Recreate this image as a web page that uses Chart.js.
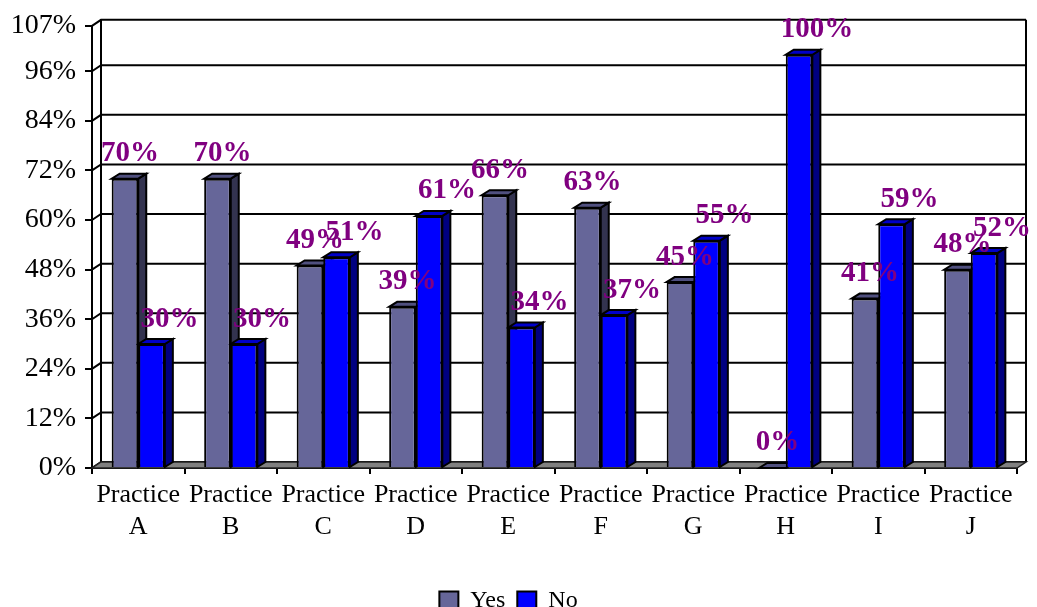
<!DOCTYPE html>
<html>
<head>
<meta charset="utf-8">
<title>Practice survey</title>
<script src="https://cdn.jsdelivr.net/npm/chart.js@4.4.0/dist/chart.umd.min.js"></script>
<style>
  html, body { margin: 0; padding: 0; background: #fff; }
</style>
</head>
<body>
<canvas id="myChart" width="1037" height="607"></canvas>
<script>
const practices = ['A', 'B', 'C', 'D', 'E', 'F', 'G', 'H', 'I', 'J'];
const yesValues = [70, 70, 49, 39, 66, 63, 45, 0, 41, 48];
const noValues = [30, 30, 51, 61, 34, 37, 55, 100, 59, 52];
const yTicks = [0, 12, 24, 36, 48, 60, 72, 84, 96, 107];

const serif = '"Liberation Serif", "Times New Roman", serif';

// depth of the walls / floor and of the columns
const WALL_DX = 9, WALL_DY = -6;
const BAR_DX = 8, BAR_DY = -5;

const faces = [
  { top: '#50507f', side: '#33334f' },
  { top: '#0000c8', side: '#000080' }
];
const labelShift = [5, 18];

const ctx = document.getElementById('myChart');

function box(c, pts) {
  c.beginPath();
  c.moveTo(pts[0][0], pts[0][1]);
  for (let k = 1; k < pts.length; k++) c.lineTo(pts[k][0], pts[k][1]);
  c.closePath();
  c.fill();
  c.stroke();
}

const walls3d = {
  id: 'walls3d',
  beforeDatasetsDraw(chart) {
    const c = chart.ctx;
    const a = chart.chartArea;
    const y = chart.scales.y;
    c.save();
    c.lineWidth = 2;
    c.strokeStyle = '#000';

    // side wall diagonals and back wall gridlines
    yTicks.forEach(v => {
      const py = y.getPixelForValue(v);
      c.beginPath();
      c.moveTo(a.left, py);
      c.lineTo(a.left + WALL_DX, py + WALL_DY);
      c.lineTo(a.right + WALL_DX, py + WALL_DY);
      c.stroke();
    });
    c.beginPath();
    c.moveTo(a.left + WALL_DX, a.top + WALL_DY);
    c.lineTo(a.left + WALL_DX, a.bottom + WALL_DY);
    c.moveTo(a.right + WALL_DX, a.top + WALL_DY);
    c.lineTo(a.right + WALL_DX, a.bottom + WALL_DY);
    c.stroke();

    // floor
    c.fillStyle = '#808080';
    c.strokeStyle = '#222';
    c.lineWidth = 1.5;
    box(c, [[a.left, a.bottom], [a.right, a.bottom],
            [a.right + WALL_DX, a.bottom + WALL_DY], [a.left + WALL_DX, a.bottom + WALL_DY]]);

    // column tops and right sides, drawn before the front faces
    c.strokeStyle = '#000';
    c.lineWidth = 2;
    const metas = [chart.getDatasetMeta(0), chart.getDatasetMeta(1)];
    for (let i = 0; i < practices.length; i++) {
      metas.forEach((meta, di) => {
        const bar = meta.data[i];
        const l = bar.x - bar.width / 2, r = bar.x + bar.width / 2;
        const t = bar.y, b = bar.base;
        c.fillStyle = faces[di].side;
        box(c, [[r, t], [r + BAR_DX, t + BAR_DY], [r + BAR_DX, b + BAR_DY], [r, b]]);
        c.fillStyle = faces[di].top;
        box(c, [[l, t], [r, t], [r + BAR_DX, t + BAR_DY], [l + BAR_DX, t + BAR_DY]]);
      });
    }
    c.restore();
  },
  afterDatasetsDraw(chart) {
    const c = chart.ctx;
    c.save();
    c.font = 'bold 29px ' + serif;
    c.fillStyle = '#800080';
    c.textAlign = 'center';
    c.textBaseline = 'middle';
    chart.data.datasets.forEach((ds, di) => {
      chart.getDatasetMeta(di).data.forEach((bar, i) => {
        c.fillText(ds.data[i] + '%', bar.x + labelShift[di], bar.y - 25);
      });
    });
    c.restore();
  }
};

const myChart = new Chart(ctx, {
  type: 'bar',
  data: {
    labels: practices.map(p => ['Practice', p]),
    datasets: [{
      label: 'Yes',
      data: yesValues,
      backgroundColor: '#666699',
      borderColor: '#000',
      borderWidth: 2,
      categoryPercentage: 0.575,
      barPercentage: 1
    }, {
      label: 'No',
      data: noValues,
      backgroundColor: '#0000ff',
      borderColor: '#000',
      borderWidth: 2,
      categoryPercentage: 0.575,
      barPercentage: 1
    }]
  },
  options: {
    responsive: false,
    animation: false,
    devicePixelRatio: 1,
    layout: { padding: { left: 0, right: 20, top: 24, bottom: -16 } },
    plugins: {
      legend: {
        position: 'bottom',
        labels: {
          color: '#000',
          font: { family: serif, size: 24 },
          boxWidth: 19,
          boxHeight: 19,
          padding: 12
        }
      },
      tooltip: { enabled: false }
    },
    scales: {
      x: {
        afterFit: s => { s.height = 109; },
        grid: {
          drawOnChartArea: false,
          tickLength: 6,
          color: '#000',
          lineWidth: 2
        },
        border: { color: '#000', width: 2 },
        ticks: {
          color: '#000',
          font: { family: serif, size: 26, lineHeight: 1.2 },
          padding: 6,
          maxRotation: 0,
          autoSkip: false
        }
      },
      y: {
        min: 0,
        max: 107,
        afterFit: s => { s.width = 92; },
        afterBuildTicks: s => { s.ticks = yTicks.map(v => ({ value: v })); },
        grid: {
          drawOnChartArea: false,
          tickLength: 7,
          color: '#000',
          lineWidth: 2
        },
        border: { color: '#000', width: 2 },
        ticks: {
          color: '#000',
          font: { family: serif, size: 28 },
          padding: 9,
          callback: v => v + '%'
        }
      }
    }
  },
  plugins: [walls3d]
});
</script>
</body>
</html>
